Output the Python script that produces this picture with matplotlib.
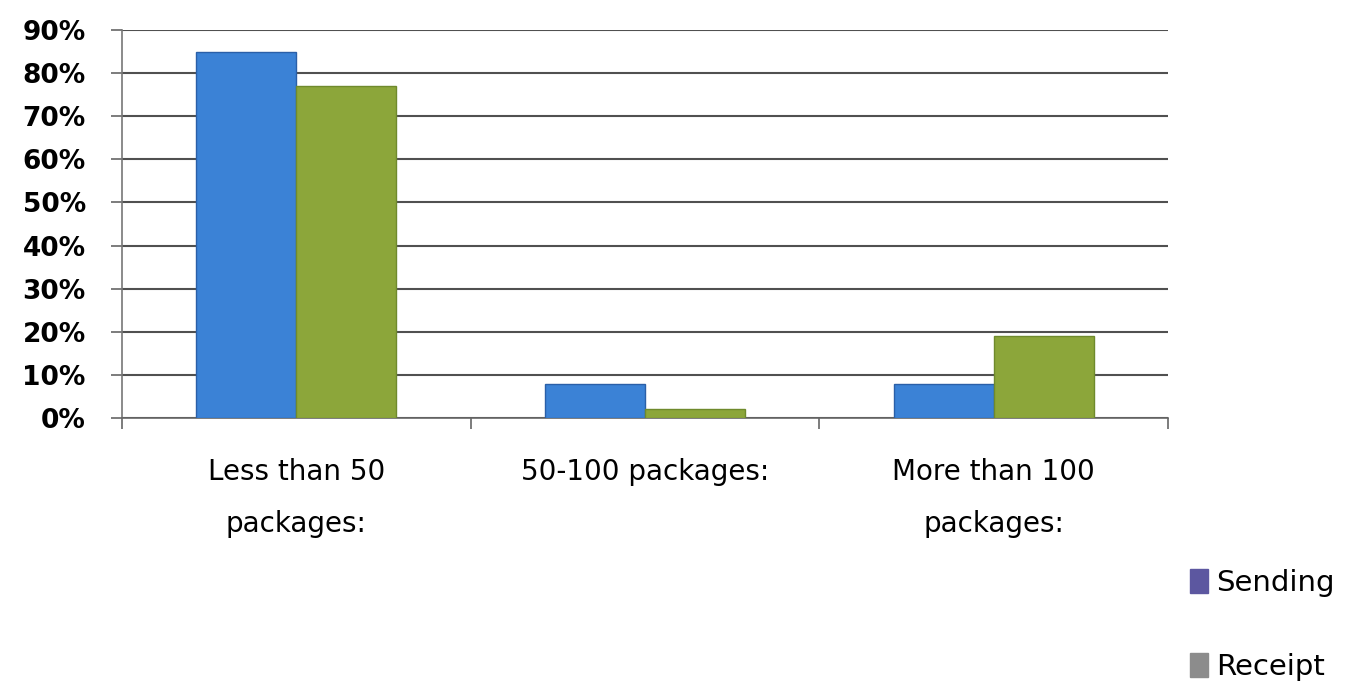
import matplotlib.pyplot as plt
import numpy as np
from matplotlib.patches import Patch
from matplotlib.ticker import PercentFormatter

categories = ['Less than 50\npackages:', '50-100 packages:', 'More than 100\npackages:']
sending = [85, 8, 8]
receipt = [77, 2, 19]
series_names = ['Sending', 'Receipt']


def main():
    plt.rcParams['font.family'] = ['DejaVu Sans']
    fig = plt.figure(figsize=(13.64, 6.93), dpi=100)
    ax = fig.add_axes([0.0894, 0.3968, 0.767, 0.5599])

    x = np.arange(len(categories))
    w = 0.287
    ax.bar(x - w / 2, sending, w, color='#3b82d6', edgecolor='#2a5fa8', linewidth=1, zorder=3)
    ax.bar(x + w / 2, receipt, w, color='#8ca63a', edgecolor='#6f8a2c', linewidth=1, zorder=3)

    ax.set_xlim(-0.5, len(categories) - 0.5)
    ax.set_ylim(0, 90)
    ax.set_yticks(np.arange(0, 91, 10))
    ax.yaxis.set_major_formatter(PercentFormatter(decimals=0))
    ax.grid(axis='y', color='#505050', linewidth=1.5, zorder=0)

    # category labels sit between boundary ticks
    ax.set_xticks(x)
    ax.set_xticklabels(categories, fontsize=20, linespacing=2.1)
    ax.set_xticks(np.arange(-0.5, len(categories)), minor=True)
    ax.tick_params(axis='x', which='major', length=0, pad=29)
    ax.tick_params(axis='x', which='minor', length=8, color='#666666', width=1.2)
    ax.tick_params(axis='y', length=8, color='#666666', width=1.2, labelsize=19, pad=18)
    for lbl in ax.get_yticklabels():
        lbl.set_fontweight('bold')

    for side in ['top', 'right']:
        ax.spines[side].set_visible(False)
    ax.spines['left'].set_color('#777777')
    ax.spines['bottom'].set_color('#666666')
    ax.spines['left'].set_linewidth(1.2)
    ax.spines['bottom'].set_linewidth(1.2)

    handles = [Patch(color='#5c57a0'), Patch(color='#8c8c8c')]
    fig.legend(handles, series_names, loc='upper left', bbox_to_anchor=(0.862, 0.2),
               frameon=False, fontsize=21, handlelength=0.6, handleheight=0.9,
               handletextpad=0.3, labelspacing=1.9, borderpad=0)

    fig.savefig('out.png', dpi=100, facecolor='white')


main()
